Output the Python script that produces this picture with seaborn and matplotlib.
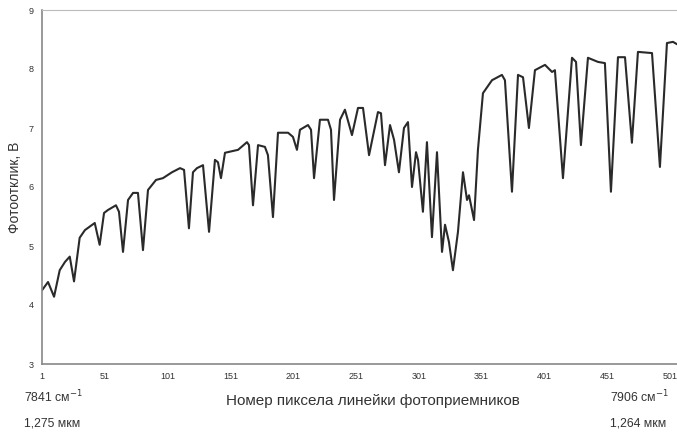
import matplotlib
matplotlib.use("Agg")
import matplotlib.pyplot as plt
import seaborn as sns
import pandas as pd

# Pixel number of the photodetector array
pixel = [1, 5.8, 10.6, 15.1, 19.3, 23.1, 26.5, 31.0, 35.2, 43.0, 46.9, 50.4, 53.5, 59.9, 62.3, 65.5,
         69.5, 73.5, 77.4, 81.4, 85.4, 91.8, 97.3, 104.5, 110.9, 114.1, 118.0, 121.2, 124.4, 129.2,
         134.0, 138.7, 141.1, 143.5, 146.7, 157.1, 164.2, 165.8, 169.0, 173.0, 178.5, 180.9, 184.9,
         188.9, 196.9, 200.8, 204.0, 206.4, 212.8, 215.2, 217.6, 222.3, 228.7, 231.1, 233.5, 238.3,
         242.2, 247.8, 252.6, 256.6, 261.4, 268.5, 270.9, 274.1, 278.1, 281.3, 285.2, 289.2, 292.4,
         295.6, 298.8, 300.4, 304.3, 307.5, 311.5, 315.5, 319.5, 321.9, 325.0, 328.2, 332.2, 336.2,
         339.4, 341.0, 345.0, 348.1, 352.1, 359.3, 367.2, 369.6, 375.2, 380.0, 384.0, 388.7, 393.5,
         401.5, 407.1, 409.4, 415.8, 423.0, 426.2, 430.1, 435.7, 443.7, 449.2, 454.0, 459.6, 465.2,
         470.7, 475.5, 486.7, 493.0, 498.6, 503.4, 506.6]
# Photoresponse, V
signal = [4.25, 4.39, 4.14, 4.59, 4.73, 4.82, 4.40, 5.14, 5.27, 5.39, 5.02, 5.56, 5.61, 5.69, 5.58, 4.90,
          5.78, 5.90, 5.90, 4.93, 5.95, 6.12, 6.15, 6.25, 6.32, 6.29, 5.30, 6.25, 6.32, 6.37,
          5.24, 6.46, 6.42, 6.15, 6.58, 6.63, 6.76, 6.71, 5.69, 6.71, 6.68, 6.54, 5.49,
          6.92, 6.92, 6.85, 6.63, 6.97, 7.05, 6.97, 6.15, 7.14, 7.14, 6.97, 5.78, 7.14,
          7.31, 6.88, 7.34, 7.34, 6.54, 7.27, 7.25, 6.37, 7.05, 6.80, 6.25, 7.00, 7.10,
          6.00, 6.59, 6.46, 5.58, 6.76, 5.15, 6.59, 4.90, 5.36, 5.07, 4.59, 5.24, 6.25,
          5.78, 5.86, 5.44, 6.63, 7.59, 7.81, 7.90, 7.81, 5.92, 7.90, 7.86, 7.00, 7.98,
          8.07, 7.95, 7.98, 6.15, 8.19, 8.12, 6.71, 8.19, 8.12, 8.10, 5.92, 8.20, 8.20,
          6.75, 8.29, 8.27, 6.34, 8.44, 8.46, 8.42]

x_ticks = [1, 51, 101, 151, 201, 251, 301, 351, 401, 451, 501]
y_ticks = [3, 4, 5, 6, 7, 8, 9]

sns.set_style("white")
plt.rcParams['font.family'] = ['Liberation Sans', 'DejaVu Sans']

df = pd.DataFrame({"pixel": pixel, "signal": signal})

fig = plt.figure(figsize=(6.77, 4.32), dpi=100)
ax = fig.add_axes([42 / 677, 1 - 364 / 432, 1 - 42 / 677, (364 - 10) / 432])

sns.lineplot(data=df, x="pixel", y="signal", ax=ax, color="#2a2a2a", linewidth=1.5)

ax.set_xlim(1, 506.6)
ax.set_ylim(3, 9)
ax.set_xticks(x_ticks)
ax.set_yticks(y_ticks)
ax.set_xticklabels([str(t) for t in x_ticks], fontsize=6.5, color="#333333")
ax.set_yticklabels([str(t) for t in y_ticks], fontsize=6.5, color="#333333")
ax.tick_params(axis="x", direction="inout", length=4, width=0.8, color="#888888", pad=4)
ax.tick_params(axis="y", direction="out", length=3, width=0.8, color="#888888", pad=3)

for side in ["left", "bottom"]:
    ax.spines[side].set_color("#888888")
    ax.spines[side].set_linewidth(1.2)
ax.spines["top"].set_color("#bbbbbb")
ax.spines["top"].set_linewidth(0.8)
ax.spines["right"].set_visible(False)

ax.set_xlabel("Номер пиксела линейки фотоприемников", fontsize=11, color="#333333")
ax.xaxis.set_label_coords((373 - 42) / 635, (364 - 394) / 354)
ax.set_ylabel("Фотоотклик, В", fontsize=10, color="#333333")
ax.yaxis.set_label_coords(-(42 - 15) / 635, 0.5)
ax.yaxis.label.set_va("center")

fs = 8.8
fig.text(24 / 677, 1 - 397 / 432, r"7841 см$^{-1}$", fontsize=fs, color="#333333", va="center", ha="left")
fig.text(24 / 677, 1 - 423 / 432, "1,275 мкм", fontsize=fs, color="#333333", va="center", ha="left")
fig.text(610 / 677, 1 - 397 / 432, r"7906 см$^{-1}$", fontsize=fs, color="#333333", va="center", ha="left")
fig.text(610 / 677, 1 - 423 / 432, "1,264 мкм", fontsize=fs, color="#333333", va="center", ha="left")

fig.savefig("out.png", dpi=100)
